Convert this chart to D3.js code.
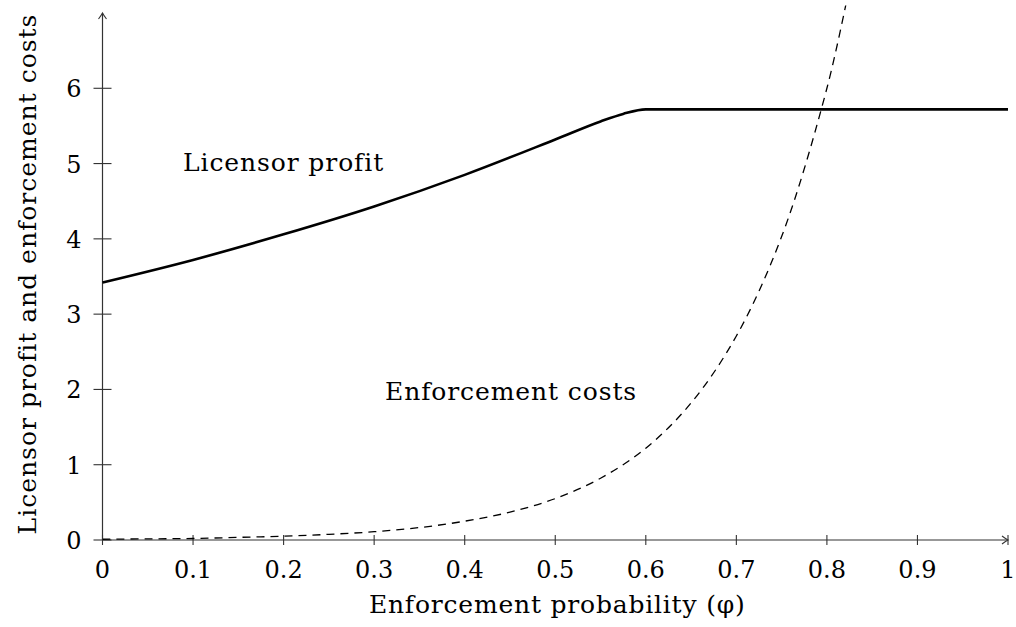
<!DOCTYPE html>
<html>
<head>
<meta charset="utf-8">
<script src="https://cdn.jsdelivr.net/npm/d3@7"></script>
<style>
  body { margin: 0; background: #fff; }
  text { font-family: "DejaVu Serif", "Liberation Serif", serif; fill: #000; }
</style>
</head>
<body>
<div id="chart"></div>
<script>
// licensor profit
const profitX = [0, 0.1, 0.2, 0.3, 0.4, 0.5, 0.55, 0.575, 0.6, 0.7, 1];
const profitY = [3.42, 3.72, 4.06, 4.43, 4.85, 5.32, 5.56, 5.66, 5.72, 5.72, 5.72];

// enforcement costs (dashed)
const costX = [0, 0.05, 0.1, 0.15, 0.2, 0.25, 0.3, 0.35, 0.4, 0.45, 0.5, 0.55, 0.6, 0.65, 0.7, 0.75, 0.8, 0.825];
const costY = [0.01, 0.015, 0.02, 0.035, 0.05, 0.075, 0.11, 0.165, 0.25, 0.37, 0.55, 0.82, 1.22, 1.82, 2.71, 4.03, 6.0, 7.35];

const xTicks = [0, 0.1, 0.2, 0.3, 0.4, 0.5, 0.6, 0.7, 0.8, 0.9, 1];
const yTicks = [0, 1, 2, 3, 4, 5, 6];

const width = 1016, height = 627;
const margin = {top: 13, right: 8, bottom: 87, left: 102.5};

const svg = d3.select('#chart').append('svg')
    .attr('width', width)
    .attr('height', height);

const x = d3.scaleLinear().domain([0, 1]).range([margin.left, width - margin.right]);
const y = d3.scaleLinear().domain([0, 7]).range([height - margin.bottom, margin.top]);

svg.append('defs').append('clipPath').attr('id', 'clip')
    .append('rect')
    .attr('x', x(0)).attr('y', y(7.1))
    .attr('width', x(1) - x(0)).attr('height', y(0) - y(7.1) + 5);

// axes
const axisColor = '#333';
svg.append('line')
    .attr('x1', x(0)).attr('x2', x(1))
    .attr('y1', y(0)).attr('y2', y(0))
    .attr('stroke', axisColor).attr('stroke-width', 1.2);
svg.append('line')
    .attr('x1', x(0)).attr('x2', x(0))
    .attr('y1', y(0)).attr('y2', y(7))
    .attr('stroke', axisColor).attr('stroke-width', 1.2);

// arrow heads
svg.append('path')
    .attr('d', `M${x(1) - 6},${y(0) - 4} Q${x(1) - 2},${y(0) - 1} ${x(1)},${y(0)} Q${x(1) - 2},${y(0) + 1} ${x(1) - 6},${y(0) + 4}`)
    .attr('fill', 'none').attr('stroke', axisColor).attr('stroke-width', 1.1);
svg.append('path')
    .attr('d', `M${x(0) - 4},${y(7) + 6} Q${x(0) - 1},${y(7) + 2} ${x(0)},${y(7)} Q${x(0) + 1},${y(7) + 2} ${x(0) + 4},${y(7) + 6}`)
    .attr('fill', 'none').attr('stroke', axisColor).attr('stroke-width', 1.1);

// x ticks
svg.append('g').selectAll('line')
    .data(xTicks).enter()
    .append('line')
    .attr('x1', (d) => x(d)).attr('x2', (d) => x(d))
    .attr('y1', y(0) - 5).attr('y2', y(0) + 5)
    .attr('stroke', axisColor).attr('stroke-width', 1.1);
svg.append('g').selectAll('text')
    .data(xTicks).enter()
    .append('text')
    .attr('x', (d) => x(d))
    .attr('y', y(0) + 38)
    .attr('text-anchor', 'middle')
    .attr('font-size', 24)
    .text((d) => d3.format('~g')(d));

// y ticks
svg.append('g').selectAll('line')
    .data(yTicks).enter()
    .append('line')
    .attr('x1', x(0) - 9).attr('x2', x(0) + 9)
    .attr('y1', (d) => y(d)).attr('y2', (d) => y(d))
    .attr('stroke', axisColor).attr('stroke-width', 1.1);
svg.append('g').selectAll('text')
    .data(yTicks).enter()
    .append('text')
    .attr('x', x(0) - 21)
    .attr('y', (d) => y(d) + 9)
    .attr('text-anchor', 'end')
    .attr('font-size', 24)
    .text((d) => d);

// axis titles
svg.append('text')
    .attr('x', (x(0) + x(1)) / 2 + 2)
    .attr('y', 613)
    .attr('text-anchor', 'middle')
    .attr('font-size', 25)
    .attr('letter-spacing', 0.8)
    .text('Enforcement probability (φ)');

svg.append('text')
    .attr('transform', 'translate(36,' + 274 + ') rotate(-90)')
    .attr('text-anchor', 'middle')
    .attr('font-size', 25)
    .attr('letter-spacing', 1)
    .text('Licensor profit and enforcement costs');

// curves
const smooth = d3.line()
    .x((d) => x(d[0]))
    .y((d) => y(d[1]))
    .curve(d3.curveCatmullRom);
const flat = d3.line()
    .x((d) => x(d[0]))
    .y((d) => y(d[1]))
    .curve(d3.curveMonotoneX);

svg.append('path')
    .datum(d3.zip(costX, costY))
    .attr('clip-path', 'url(#clip)')
    .attr('fill', 'none')
    .attr('stroke', '#000')
    .attr('stroke-width', 1.3)
    .attr('stroke-dasharray', '8,6')
    .attr('d', smooth);

svg.append('path')
    .datum(d3.zip(profitX, profitY))
    .attr('fill', 'none')
    .attr('stroke', '#000')
    .attr('stroke-width', 2.6)
    .attr('d', flat);

// in-plot labels
svg.append('text')
    .attr('x', 183).attr('y', 171)
    .attr('font-size', 25)
    .attr('letter-spacing', 0.9)
    .text('Licensor profit');
svg.append('text')
    .attr('x', 385).attr('y', 400)
    .attr('font-size', 25)
    .attr('letter-spacing', 0.9)
    .text('Enforcement costs');
</script>
</body>
</html>
